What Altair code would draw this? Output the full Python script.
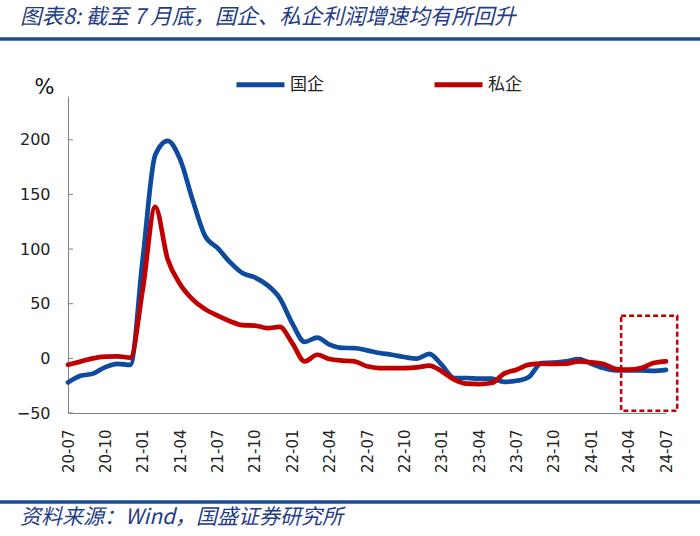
import altair as alt
import pandas as pd

# ---- data ----
tick_labels = ["20-07", "20-10", "21-01", "21-04", "21-07", "21-10", "22-01", "22-04",
               "22-07", "22-10", "23-01", "23-04", "23-07", "23-10", "24-01", "24-04", "24-07"]

soe = [-22, -16, -14, -8, -5, -6, 91, 186, 199, 182, 145, 112, 101, 88, 78, 74, 67, 55,
       32, 15, 19, 12.5, 9.5, 9.4, 7.3, 4.9, 3.3, 1.2, -0.3, 4, -6, -18, -18, -18.6, -18.6,
       -21.5, -20.5, -17, -4.3, -4, -2.8, -0.6, -4.9, -8.9, -11, -11, -11, -11.5, -10.5]

private = [-5.8, -3, 0, 1.5, 1.8, 0.6, 63, 138.6, 90.6, 67.8, 54, 45, 39, 34, 30.4, 30, 27.7,
           28.7, 14, -2.8, 3.3, -0.6, -2.1, -2.8, -7.3, -8.9, -8.9, -8.9, -8.3, -6.7, -11.9,
           -19.5, -23.2, -23.5, -22.6, -14, -10.4, -5.8, -4.9, -5, -4.9, -2.8, -3.7, -5.2,
           -9.8, -10.4, -8.9, -4.3, -2.8]

series_names = ["国企", "私企"]
series_colors = ["#0E4A9E", "#C00000"]
y_ticks = [-50, 0, 50, 100, 150, 200]
box_x = [44.4, 48.9]
box_y = [-48, 39]

title_text = "图表8: 截至 7 月底，国企、私企利润增速均有所回升"
source_text = "资料来源：Wind，国盛证券研究所"

# ---- build tables ----
n = len(soe)
idx = list(range(n))
df = pd.DataFrame({
    "idx": idx * 2,
    "value": soe + private,
    "series": [series_names[0]] * n + [series_names[1]] * n,
})
ticks_df = pd.DataFrame({"value": y_ticks})
box_df = pd.DataFrame({"idx": [box_x[0]], "idx2": [box_x[1]],
                       "value": [box_y[0]], "value2": [box_y[1]]})

label_expr = "[" + ",".join(f"'{t}'" for t in tick_labels) + "][round(datum.value/3)]"

x_scale = alt.Scale(domain=[0, n - 1], nice=False, zero=False)
y_scale = alt.Scale(domain=[-50, 240], nice=False, zero=False)

x_axis = alt.Axis(values=list(range(0, n, 3)), labelExpr=label_expr, labelAngle=270,
                  ticks=False, grid=False, labelPadding=16, domainColor="#808080",
                  labelFont="DejaVu Sans", labelFontSize=15, labelColor="#222222",
                  title=None)
y_axis = alt.Axis(values=y_ticks, ticks=False, grid=False, labelPadding=18,
                  domainColor="#808080", labelFont="DejaVu Sans", labelFontSize=16,
                  labelColor="#222222", title="%", titleAngle=0, titleX=-24, titleY=-9,
                  titleFont="DejaVu Sans", titleFontSize=21, titleFontWeight="normal",
                  titleAlign="center", titleBaseline="middle", titleColor="#111111")

X = alt.X("idx:Q", scale=x_scale, axis=x_axis)
Y = alt.Y("value:Q", scale=y_scale, axis=y_axis)

lines = alt.Chart(df).mark_line(
    interpolate="monotone", strokeWidth=4.7, strokeCap="round", strokeJoin="round"
).encode(
    x=X,
    y=Y,
    color=alt.Color("series:N", scale=alt.Scale(domain=series_names, range=series_colors),
                    legend=alt.Legend(orient="none", legendX=166, legendY=-38,
                                      direction="horizontal", title=None,
                                      symbolType="stroke", symbolSize=2304,
                                      symbolStrokeWidth=5, labelFont="Noto Sans CJK SC",
                                      labelFontSize=17, labelOffset=3, columnPadding=100,
                                      labelColor="#222222")),
    order=alt.Order("idx:Q"),
)

yticks = alt.Chart(ticks_df).mark_rule(color="#808080", strokeWidth=1).encode(
    y=Y,
    x=alt.value(0), x2=alt.value(5),
)

box = alt.Chart(box_df).mark_rect(
    fillOpacity=0, stroke="#C00000", strokeWidth=2.5, strokeDash=[5, 3]
).encode(
    x=X, x2="idx2:Q",
    y=Y, y2="value2:Q",
)

one = alt.Data(values=[{}])
title = alt.Chart(one).mark_text(
    text=title_text, align="left", baseline="middle", font="Noto Sans CJK SC",
    fontSize=21.5, fontStyle="italic", color="#1F3C88"
).encode(x=alt.value(-48), y=alt.value(-78))

top_rule = alt.Chart(one).mark_rule(color="#1A4B9B", strokeWidth=3.5).encode(
    x=alt.value(-68), x2=alt.value(632), y=alt.value(-57))

bottom_rule = alt.Chart(one).mark_rule(color="#1A4B9B", strokeWidth=3.5).encode(
    x=alt.value(-68), x2=alt.value(632), y=alt.value(406))

source = alt.Chart(one).mark_text(
    text=source_text, align="left", baseline="middle", font="Noto Sans CJK SC",
    fontSize=21, fontStyle="italic", color="#1F3C88"
).encode(x=alt.value(-48), y=alt.value(422))

chart = alt.layer(lines, yticks, box, title, top_rule, bottom_rule, source).properties(
    width=598, height=317,
    padding={"left": 68, "top": 96, "right": 34, "bottom": 123},
    autosize=alt.AutoSizeParams(type="none"),
    background="white",
).configure_view(strokeWidth=0)

chart.save("out.html", embed_options={"renderer": "svg", "actions": False})
